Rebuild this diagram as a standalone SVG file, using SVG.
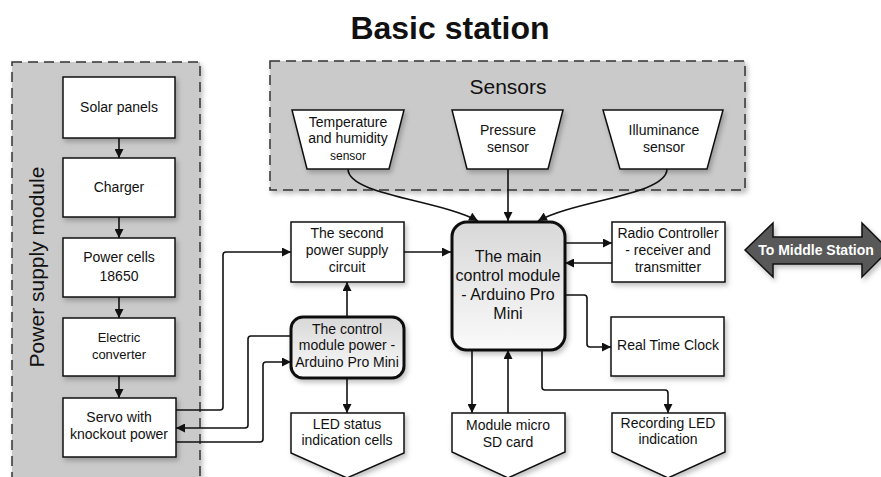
<svg xmlns="http://www.w3.org/2000/svg" width="881" height="477" viewBox="0 0 881 477">
<style>
text{font-family:"Liberation Sans",Arial,sans-serif;fill:#111;text-anchor:middle}
.t{font-size:14px}
.big{font-size:16px}
.box{fill:#fff;stroke:#111;stroke-width:1.5}
.grp{fill:#cacaca;stroke:#333;stroke-width:1.5;stroke-dasharray:10 6}
.cn{fill:none;stroke:#111;stroke-width:1.6}
.ctrl{fill:url(#g);stroke:#111;stroke-width:3}
</style>
<defs>
<linearGradient id="g" x1="0" y1="0" x2="0" y2="1"><stop offset="0" stop-color="#d8d8d8"/><stop offset="1" stop-color="#fafafa"/></linearGradient>
<filter id="sh" x="-10%" y="-10%" width="130%" height="130%"><feDropShadow dx="2" dy="3" stdDeviation="2.5" flood-color="#000" flood-opacity="0.25"/></filter>
<marker id="a" viewBox="0 0 10 10" refX="10" refY="5" markerWidth="10" markerHeight="9" markerUnits="userSpaceOnUse" orient="auto"><path d="M0,0L10,5L0,10z" fill="#111"/></marker>
</defs>
<rect width="881" height="477" fill="#fff"/>
<text x="450" y="39" style="font-size:32px;font-weight:bold">Basic station</text>

<g id="power-supply-module">
<rect class="grp" x="12" y="62" width="188" height="430" filter="url(#sh)"/>
<text transform="translate(44,267) rotate(-90)" style="font-size:21px">Power supply module</text>
</g>
<g id="sensors-group">
<rect class="grp" x="270" y="61" width="475" height="129" filter="url(#sh)"/>
<text x="508" y="94" style="font-size:21px">Sensors</text>
</g>

<g id="connectors">
<path class="cn" d="M119,138V158" marker-end="url(#a)"/>
<path class="cn" d="M119,217V238" marker-end="url(#a)"/>
<path class="cn" d="M119,297V318" marker-end="url(#a)"/>
<path class="cn" d="M119,376V398" marker-end="url(#a)"/>
<path class="cn" d="M348,169C348,195 440,200 478,221" marker-end="url(#a)"/>
<path class="cn" d="M508,169V221" marker-end="url(#a)"/>
<path class="cn" d="M667,169C667,195 575,200 538,221" marker-end="url(#a)"/>
<path class="cn" d="M404,252H451" marker-end="url(#a)"/>
<path class="cn" d="M347,317V282" marker-end="url(#a)"/>
<path class="cn" d="M347,378V413" marker-end="url(#a)"/>
<path class="cn" d="M176,410H220Q223,410 223,407V255Q223,252 226,252H291" marker-end="url(#a)"/>
<path class="cn" d="M291,336H251Q248,336 248,339V425Q248,428 245,428H176" marker-end="url(#a)"/>
<path class="cn" d="M176,442H260Q263,442 263,439V365Q263,362 266,362H291" marker-end="url(#a)"/>
<path class="cn" d="M565,243H612" marker-end="url(#a)"/>
<path class="cn" d="M612,263H565" marker-end="url(#a)"/>
<path class="cn" d="M565,295H584Q587,295 587,298V344Q587,347 590,347H611" marker-end="url(#a)"/>
<path class="cn" d="M472,350V413" marker-end="url(#a)"/>
<path class="cn" d="M508,413V350" marker-end="url(#a)"/>
<path class="cn" d="M542,350V387Q542,390 545,390H665Q668,390 668,393V413" marker-end="url(#a)"/>
</g>

<g id="solar-panels"><rect class="box" x="63" y="77" width="112" height="61" filter="url(#sh)"/><text class="t" x="119" y="112">Solar panels</text></g>
<g id="charger"><rect class="box" x="63" y="158" width="112" height="59" filter="url(#sh)"/><text class="t" x="119" y="192">Charger</text></g>
<g id="power-cells"><rect class="box" x="63" y="238" width="112" height="59" filter="url(#sh)"/><text class="t" x="119" y="262">Power cells</text><text class="t" x="119" y="281">18650</text></g>
<g id="electric-converter"><rect class="box" x="63" y="318" width="112" height="58" filter="url(#sh)"/><text x="119" y="342" style="font-size:13px">Electric</text><text x="119" y="359" style="font-size:13px">converter</text></g>
<g id="servo"><rect class="box" x="63" y="398" width="113" height="59" filter="url(#sh)"/><text class="t" x="119" y="422">Servo with</text><text class="t" x="119" y="439">knockout power</text></g>

<g id="temp-sensor"><path class="box" d="M292,110H404L389,169H307Z" filter="url(#sh)"/><text class="t" x="348" y="127">Temperature</text><text class="t" x="348" y="143">and humidity</text><text x="348" y="160" style="font-size:12px">sensor</text></g>
<g id="pressure-sensor"><path class="box" d="M452,110H563L548,169H467Z" filter="url(#sh)"/><text class="t" x="508" y="135">Pressure</text><text class="t" x="508" y="152">sensor</text></g>
<g id="illuminance-sensor"><path class="box" d="M603,110H723L707,169H620Z" filter="url(#sh)"/><text class="t" x="664" y="135">Illuminance</text><text class="t" x="664" y="152">sensor</text></g>

<g id="second-power"><rect class="box" x="291" y="222" width="113" height="60" filter="url(#sh)"/><text class="t" x="347" y="238">The second</text><text class="t" x="347" y="255">power supply</text><text class="t" x="347" y="272">circuit</text></g>
<g id="control-power"><rect class="ctrl" x="291" y="317" width="113" height="61" rx="12" filter="url(#sh)"/><text class="t" x="347" y="334">The control</text><text class="t" x="347" y="350">module power -</text><text class="t" x="347" y="367">Arduino Pro Mini</text></g>
<g id="led-status"><path class="box" d="M291,413H404V453L347,478L291,453Z" filter="url(#sh)"/><text class="t" x="347" y="429">LED status</text><text class="t" x="347" y="445">indication cells</text></g>

<g id="main-module"><rect class="ctrl" x="452" y="222" width="113" height="128" rx="15" filter="url(#sh)"/><text class="big" x="508" y="262">The main</text><text class="big" x="508" y="281">control module</text><text class="big" x="508" y="300">- Arduino Pro</text><text class="big" x="508" y="319">Mini</text></g>
<g id="radio"><rect class="box" x="612" y="222" width="113" height="60" filter="url(#sh)"/><text class="t" x="668" y="238">Radio Controller</text><text class="t" x="668" y="255">- receiver and</text><text class="t" x="668" y="272">transmitter</text></g>
<g id="rtc"><rect class="box" x="611" y="317" width="113" height="59" filter="url(#sh)"/><text class="t" x="668" y="350">Real Time Clock</text></g>
<g id="sd-card"><path class="box" d="M452,413H565V452L508,478L452,452Z" filter="url(#sh)"/><text class="t" x="508" y="430">Module micro</text><text class="t" x="508" y="447">SD card</text></g>
<g id="recording-led"><path class="box" d="M612,413H725V452L668,478L612,452Z" filter="url(#sh)"/><text class="t" x="668" y="428">Recording LED</text><text class="t" x="668" y="444">indication</text></g>

<g id="to-middle-station"><path d="M745,250L773,223V237H862V223L889,250L862,277V264H773V277Z" fill="#595959" stroke="#111" stroke-width="1.5" filter="url(#sh)"/><text x="816" y="255" style="font-size:14px;font-weight:bold;fill:#fff">To Middle Station</text></g>
</svg>
